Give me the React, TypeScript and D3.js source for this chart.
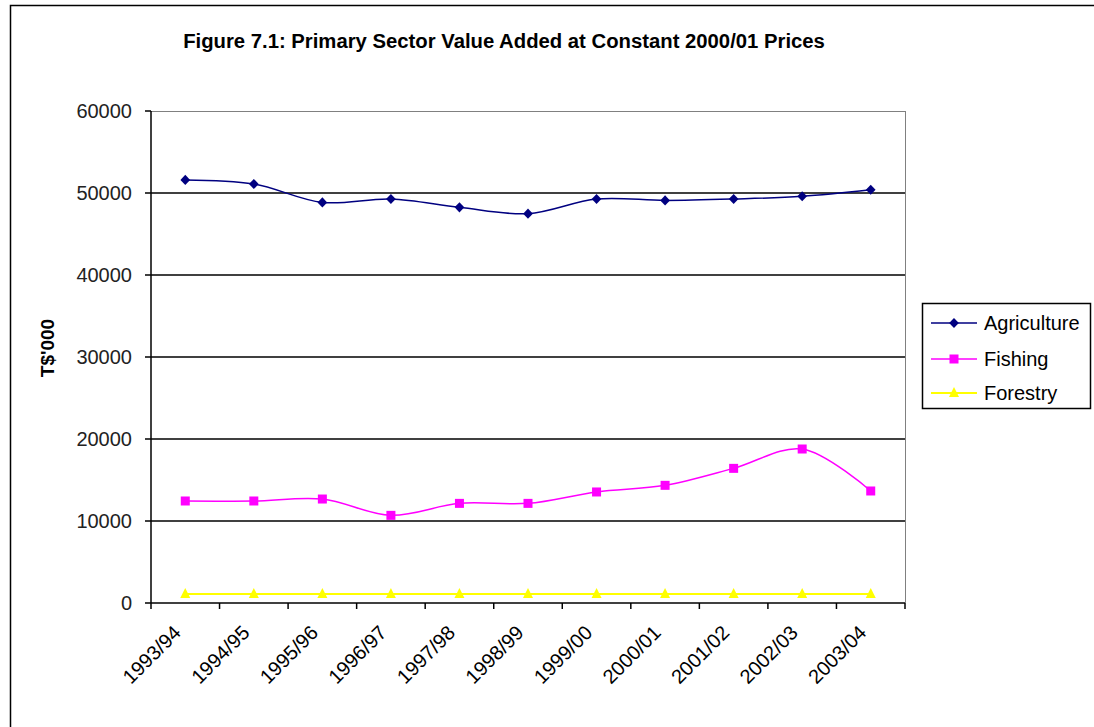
import React from "react";
import * as d3 from "d3";

const categories = ["1993/94", "1994/95", "1995/96", "1996/97", "1997/98", "1998/99", "1999/00", "2000/01", "2001/02", "2002/03", "2003/04"];
const agriculture = [51600, 51100, 48850, 49270, 48250, 47480, 49270, 49100, 49270, 49600, 50400];
const fishing = [12440, 12440, 12680, 10690, 12150, 12150, 13540, 14350, 16420, 18780, 13660];
const forestry = [1100, 1100, 1100, 1100, 1100, 1100, 1100, 1100, 1100, 1100, 1100];
const yTicks = [0, 10000, 20000, 30000, 40000, 50000, 60000];
const seriesNames = ["Agriculture", "Fishing", "Forestry"];
const seriesColors = ["#000080", "#FF00FF", "#FFFF00"];

const FONT = "'Liberation Sans', Arial, sans-serif";

function Marker({ kind, x, y, color }: { kind: number; x: number; y: number; color: string }) {
  if (kind === 0) {
    const s = d3.symbol().type(d3.symbolDiamond2).size(60)();
    return <path d={s || ""} transform={`translate(${x},${y}) scale(1,1.05)`} fill={color} />;
  }
  if (kind === 1) {
    return <rect x={x - 4.5} y={y - 4.5} width={9} height={9} fill={color} />;
  }
  return <path d={`M${x},${y - 6}L${x + 5},${y + 4}L${x - 5},${y + 4}Z`} fill={color} />;
}

export default function App() {
  const left = 151, right = 905, top = 111, bottom = 603;
  const x = d3.scaleBand<string>().domain(categories).range([left, right]);
  const y = d3.scaleLinear().domain([0, 60000]).range([bottom, top]);
  const cx = (c: string) => (x(c) as number) + x.bandwidth() / 2;
  const line = d3.line<number>().x((_, i) => cx(categories[i])).y((v) => y(v)).curve(d3.curveCatmullRom.alpha(0.5));
  const series = [agriculture, fishing, forestry];
  const boundaries = categories.map((c) => x(c) as number).concat([right]);

  return (
    <svg width={1094} height={727} style={{ display: "block", position: "absolute", left: 0, top: 0 }}>
      <rect x={0} y={0} width={1094} height={727} fill="#fff" />
      <rect x={10.5} y={5.5} width={1100} height={740} fill="none" stroke="#000" strokeWidth={1.5} />
      <text x={504} y={48} textAnchor="middle" fontFamily={FONT} fontWeight="bold" fontSize={20.3} fill="#000">
        Figure 7.1: Primary Sector Value Added at Constant 2000/01 Prices
      </text>
      {/* plot border */}
      <line x1={left} x2={right} y1={top + 0.5} y2={top + 0.5} stroke="#808080" strokeWidth={1} />
      <line x1={right + 0.5} x2={right + 0.5} y1={top} y2={bottom} stroke="#808080" strokeWidth={1} />
      {yTicks.filter((t) => t > 0 && t < 60000).map((t) => (
        <line key={t} x1={left} x2={right} y1={y(t)} y2={y(t)} stroke="#000" strokeWidth={1.5} />
      ))}
      {/* y axis */}
      <line x1={left} x2={left} y1={top} y2={bottom} stroke="#000" strokeWidth={1.5} />
      {yTicks.map((t) => (
        <g key={t}>
          <line x1={left - 6} x2={left} y1={y(t)} y2={y(t)} stroke="#000" strokeWidth={1.5} />
          <text x={132} y={y(t)} dy="0.35em" textAnchor="end" fontFamily={FONT} fontSize={20} fill="#222">
            {t}
          </text>
        </g>
      ))}
      <text transform={`translate(54,348) rotate(-90)`} textAnchor="middle" fontFamily={FONT} fontWeight="bold" fontSize={19} fill="#000">
        T$'000
      </text>
      {/* x axis */}
      <line x1={left} x2={right} y1={bottom} y2={bottom} stroke="#000" strokeWidth={1.5} />
      {boundaries.map((b, i) => (
        <line key={i} x1={b} x2={b} y1={bottom} y2={bottom + 6} stroke="#000" strokeWidth={1.5} />
      ))}
      {categories.map((c) => (
        <text key={c} transform={`translate(${cx(c) - 8},${bottom + 26}) rotate(-45)`} textAnchor="end" dy="0.35em" fontFamily={FONT} fontSize={20} fill="#000">
          {c}
        </text>
      ))}
      {/* series */}
      {series.map((s, k) => (
        <g key={k}>
          <path d={line(s) || ""} fill="none" stroke={seriesColors[k]} strokeWidth={k === 2 ? 2 : 1.5} />
          {s.map((v, i) => (
            <Marker key={i} kind={k} x={cx(categories[i])} y={y(v)} color={seriesColors[k]} />
          ))}
        </g>
      ))}
      {/* legend */}
      <rect x={922.5} y={303.5} width={168} height={105} fill="#fff" stroke="#000" strokeWidth={1.5} />
      {seriesNames.map((n, k) => {
        const ly = [323, 359, 393][k];
        return (
          <g key={n}>
            <line x1={931} x2={977} y1={ly} y2={ly} stroke={seriesColors[k]} strokeWidth={k === 2 ? 2 : 1.5} />
            <Marker kind={k} x={954} y={ly} color={seriesColors[k]} />
            <text x={984} y={ly} dy="0.35em" fontFamily={FONT} fontSize={20} fill="#000">
              {n}
            </text>
          </g>
        );
      })}
    </svg>
  );
}
